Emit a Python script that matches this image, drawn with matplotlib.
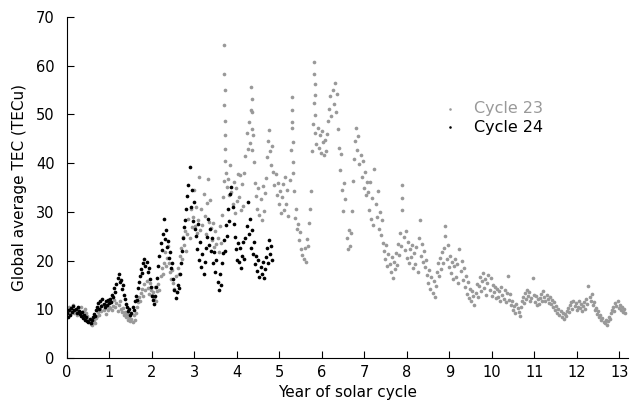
import numpy as np
import matplotlib.pyplot as plt

plt.rcParams["font.family"] = ["DejaVu Sans"]

STEP = 0.0253  # years between read-off samples

# Cycle 23 global average TEC (TECu), one value every STEP yr from year 0
cycle23_tec = [
    9.8, 9.2, 10.4, 9.0, 10.1, 9.5, 10.8, 9.3, 9.9, 8.8, 10.2, 9.6, 9.1, 10.5, 9.4, 8.9, 9.7, 10.0, 9.2, 8.6,
    8.0, 7.4, 7.0, 6.8, 7.3, 7.8, 7.1, 8.2, 8.6, 9.4, 8.9, 10.1, 9.6, 10.8, 9.8, 10.3, 9.1, 10.6, 9.9, 10.4,
    10.2, 11.4, 9.8, 10.7, 12.0, 10.4, 11.2, 9.6, 10.9, 11.6, 10.1, 9.4, 10.3, 8.8, 9.5, 8.4, 9.0, 7.9, 8.5, 7.6,
    8.1, 7.4, 8.8, 7.9, 9.2, 10.4, 11.5, 12.6, 11.8, 13.4, 14.2, 12.8, 15.1, 13.9, 15.8, 14.4, 13.2, 15.4, 14.0, 13.0,
    13.5, 12.4, 14.6, 11.8, 13.8, 15.2, 14.0, 16.8, 18.4, 17.2, 19.6, 21.8, 18.8, 20.5, 23.0, 19.4, 17.6, 16.2, 18.0, 15.4,
    14.2, 16.8, 13.6, 18.5, 17.2, 21.0, 22.6, 20.4, 24.8, 23.2, 26.0, 22.0, 25.4, 28.6, 24.6, 30.5, 26.8, 29.0, 34.5, 27.2,
    31.0, 25.6, 28.4, 37.2, 26.2, 30.6, 27.4, 33.6, 29.2, 25.4, 31.8, 36.8, 28.0, 32.4, 26.6, 24.2, 27.8, 22.8, 26.0, 23.4,
    24.6, 21.8, 27.2, 23.6, 29.4, 33.0, 52.0, 40.5, 38.0, 35.2, 36.8, 33.4, 39.6, 34.0, 31.6, 36.2, 29.8, 35.0, 32.2, 37.8,
    33.0, 37.5, 30.4, 35.8, 31.2, 38.0, 41.5, 46.2, 43.0, 48.5, 44.2, 51.0, 42.6, 45.8, 40.2, 36.0, 33.2, 30.6, 34.8, 29.4,
    32.6, 28.4, 35.4, 30.2, 33.8, 37.0, 41.2, 44.6, 46.8, 42.4, 39.6, 43.5, 38.2, 35.6, 37.8, 33.4, 36.0, 31.6, 34.2, 29.8,
    33.0, 35.8, 30.4, 37.2, 31.6, 34.4, 29.2, 36.6, 42.8, 48.5, 38.0, 34.2, 28.8, 30.6, 26.4, 27.6, 24.2, 25.8, 22.4, 21.2,
    20.4, 22.6, 19.8, 24.5, 23.0, 27.8, 30.6, 34.2, 42.5, 48.0, 52.4, 46.2, 44.0, 47.2, 43.2, 45.8, 42.0, 46.6, 44.4, 41.6,
    44.8, 42.4, 46.0, 48.6, 51.2, 53.8, 49.6, 55.0, 52.2, 56.4, 50.4, 54.2, 47.0, 43.2, 38.6, 41.8, 34.4, 30.2, 36.0, 32.6,
    24.6, 22.4, 26.2, 23.0, 25.6, 30.2, 36.4, 40.8, 44.6, 47.2, 42.8, 45.6, 39.8, 41.6, 37.2, 40.4, 35.0, 38.2, 33.4, 36.2,
    34.0, 30.4, 36.2, 28.6, 32.8, 27.4, 38.7, 31.6, 29.0, 34.2, 26.4, 30.0, 25.2, 28.4, 23.6, 22.0, 20.4, 23.2, 18.8, 21.4,
    19.2, 17.6, 20.8, 16.4, 19.8, 18.2, 21.6, 19.0, 23.4, 21.2, 25.6, 23.0, 30.4, 24.8, 22.2, 26.0, 20.6, 23.8, 19.6, 22.4,
    20.8, 23.2, 18.4, 21.6, 19.2, 22.8, 17.6, 24.6, 28.4, 21.0, 23.4, 19.8, 22.0, 18.6, 20.2, 17.0, 15.4, 18.0, 14.2, 16.6,
    13.4, 15.8, 12.6, 14.8, 17.6, 19.4, 16.8, 20.6, 18.2, 21.8, 19.6, 22.6, 27.0, 20.4, 23.2, 18.6, 21.0, 17.4, 19.8, 16.2,
    18.8, 20.4, 16.6, 19.2, 15.4, 22.3, 17.8, 20.0, 16.0, 18.4, 14.6, 16.8, 13.2, 15.6, 12.4, 14.2, 11.6, 13.8, 12.8, 10.8,
    13.4, 15.2, 12.6, 14.8, 16.6, 13.8, 15.8, 17.4, 14.4, 16.2, 13.0, 15.4, 17.0, 14.0, 16.4, 12.8, 15.0, 13.6, 14.6, 12.4,
    14.2, 12.6, 13.8, 11.8, 14.6, 13.0, 12.2, 14.0, 11.4, 13.4, 16.8, 12.0, 13.2, 10.8, 11.6, 9.8, 10.6, 9.2, 11.0, 10.2,
    9.4, 8.6, 10.4, 11.8, 12.6, 11.2, 13.4, 12.2, 14.0, 12.8, 13.6, 11.6, 12.4, 16.4, 13.0, 11.4, 12.8, 10.8, 12.2, 11.0,
    12.4, 13.2, 11.6, 13.8, 12.6, 11.8, 13.0, 12.2, 11.2, 12.6, 11.0, 12.0, 10.4, 11.4, 9.8, 10.6, 9.2, 10.0, 8.8, 9.6,
    8.4, 9.2, 8.0, 9.0, 8.6, 9.6, 10.2, 9.4, 10.8, 11.4, 10.0, 11.8, 10.6, 11.2, 9.8, 10.4, 11.6, 10.2, 11.0, 9.6,
    10.6, 11.4, 10.0, 12.2, 11.0, 14.7, 12.6, 11.8, 13.2, 10.8, 11.4, 9.8, 10.2, 9.0, 9.6, 8.4, 8.8, 7.8, 8.2, 7.4,
    7.2, 7.8, 6.8, 7.6, 8.4, 8.0, 9.2, 9.8, 10.4, 9.6, 11.2, 10.6, 11.7, 10.2, 10.8, 9.8, 10.4, 9.4, 10.0, 9.2,
]

# extra cycle 23 days inside the tall storm spikes
cycle23_spike_years = [3.70, 3.705, 3.71, 3.715, 3.72, 3.71, 3.705, 4.34, 4.345, 4.35, 4.355,
                       5.295, 5.30, 5.305, 5.31, 5.315, 5.815, 5.82, 5.825, 5.83, 5.835, 7.885, 7.89, 8.90]
cycle23_spike_tec = [64.3, 58.2, 55.0, 48.6, 45.8, 43.0, 36.4, 55.6, 53.2, 50.4, 47.0,
                     53.6, 51.0, 47.2, 44.4, 40.2, 60.7, 58.4, 56.2, 54.0, 49.8, 35.6, 32.8, 25.0]

# Cycle 24, same sampling, ends near year 4.8
cycle24_tec = [
    9.2, 8.4, 9.8, 8.8, 10.2, 9.4, 10.6, 9.8, 10.0, 9.2, 10.4, 9.6, 9.0, 8.6, 9.4, 8.2, 8.8, 7.8, 8.4, 7.6,
    7.4, 8.0, 7.2, 7.8, 8.4, 9.0, 8.6, 9.8, 10.4, 11.2, 10.0, 11.8, 10.6, 12.2, 11.0, 10.4, 11.6, 10.8, 12.0, 11.2,
    12.2, 11.4, 13.0, 12.6, 14.4, 13.6, 15.2, 16.4, 17.2, 15.6, 16.0, 14.2, 15.0, 13.0, 12.2, 11.0, 10.4, 9.6, 10.0, 8.8,
    9.2, 10.4, 9.8, 11.6, 12.8, 12.0, 14.4, 15.6, 16.8, 18.2, 17.4, 19.4, 20.4, 18.8, 19.8, 17.6, 18.4, 16.2, 14.6, 12.8,
    12.0, 11.0, 12.8, 14.6, 16.4, 18.8, 21.0, 23.6, 22.2, 25.4, 28.6, 24.4, 26.2, 22.8, 24.0, 20.6, 21.8, 18.4, 19.6, 16.2,
    14.0, 12.4, 13.6, 15.0, 14.4, 17.2, 19.6, 22.0, 24.6, 26.8, 28.4, 30.6, 33.2, 35.6, 39.3, 31.0, 34.4, 28.2, 32.0, 26.4,
    25.0, 22.4, 27.6, 20.2, 23.8, 18.6, 21.4, 17.2, 19.8, 22.6, 24.8, 28.6, 23.2, 26.4, 22.0, 24.6, 19.4, 21.8, 17.6, 20.2,
    15.6, 14.0, 17.2, 15.0, 19.4, 21.6, 24.2, 22.0, 27.4, 25.0, 30.6, 28.2, 33.6, 35.2, 31.0, 27.6, 24.8, 22.4, 20.2, 23.6,
    19.8, 22.6, 18.4, 21.0, 23.8, 20.4, 24.6, 27.2, 32.0, 25.4, 28.6, 22.6, 26.2, 21.4, 23.8, 19.2, 21.0, 17.8, 20.2, 16.6,
    18.6, 17.2, 19.8, 16.4, 18.2, 20.8, 22.6, 19.6, 24.2, 21.4, 23.0, 20.2,
]

GRAY = "#999999"

years23 = np.arange(len(cycle23_tec)) * STEP
years24 = np.arange(len(cycle24_tec)) * STEP

fig = plt.figure(figsize=(6.3, 4.09), dpi=100)
ax = fig.add_axes([0.1063, 0.1247, 0.8905, 0.8337])

ax.scatter(np.concatenate([years23, cycle23_spike_years]),
           np.concatenate([cycle23_tec, cycle23_spike_tec]),
           s=7, c=GRAY, linewidths=0, label="Cycle 23")
ax.scatter(years24, cycle24_tec, s=7, c="black", linewidths=0, label="Cycle 24")

ax.set_xlim(0, 13.2)
ax.set_ylim(0, 70)
ax.set_xticks(range(0, 14))
ax.set_yticks(range(0, 71, 10))
ax.tick_params(direction="in", length=5, labelsize=10.5, colors="black")
ax.tick_params(axis="x", pad=5)
ax.tick_params(axis="y", pad=9)
ax.spines["top"].set_visible(False)
ax.spines["right"].set_visible(False)
ax.set_xlabel("Year of solar cycle", fontsize=11)
ax.set_ylabel("Global average TEC (TECu)", fontsize=11, labelpad=6)

ax.legend(loc="upper left", bbox_to_anchor=(0.64, 0.778), frameon=False, fontsize=11.5,
          labelcolor="markerfacecolor", markerscale=0.7, handletextpad=0.5,
          labelspacing=0.25, borderpad=0)

fig.savefig("out.png", dpi=100)
